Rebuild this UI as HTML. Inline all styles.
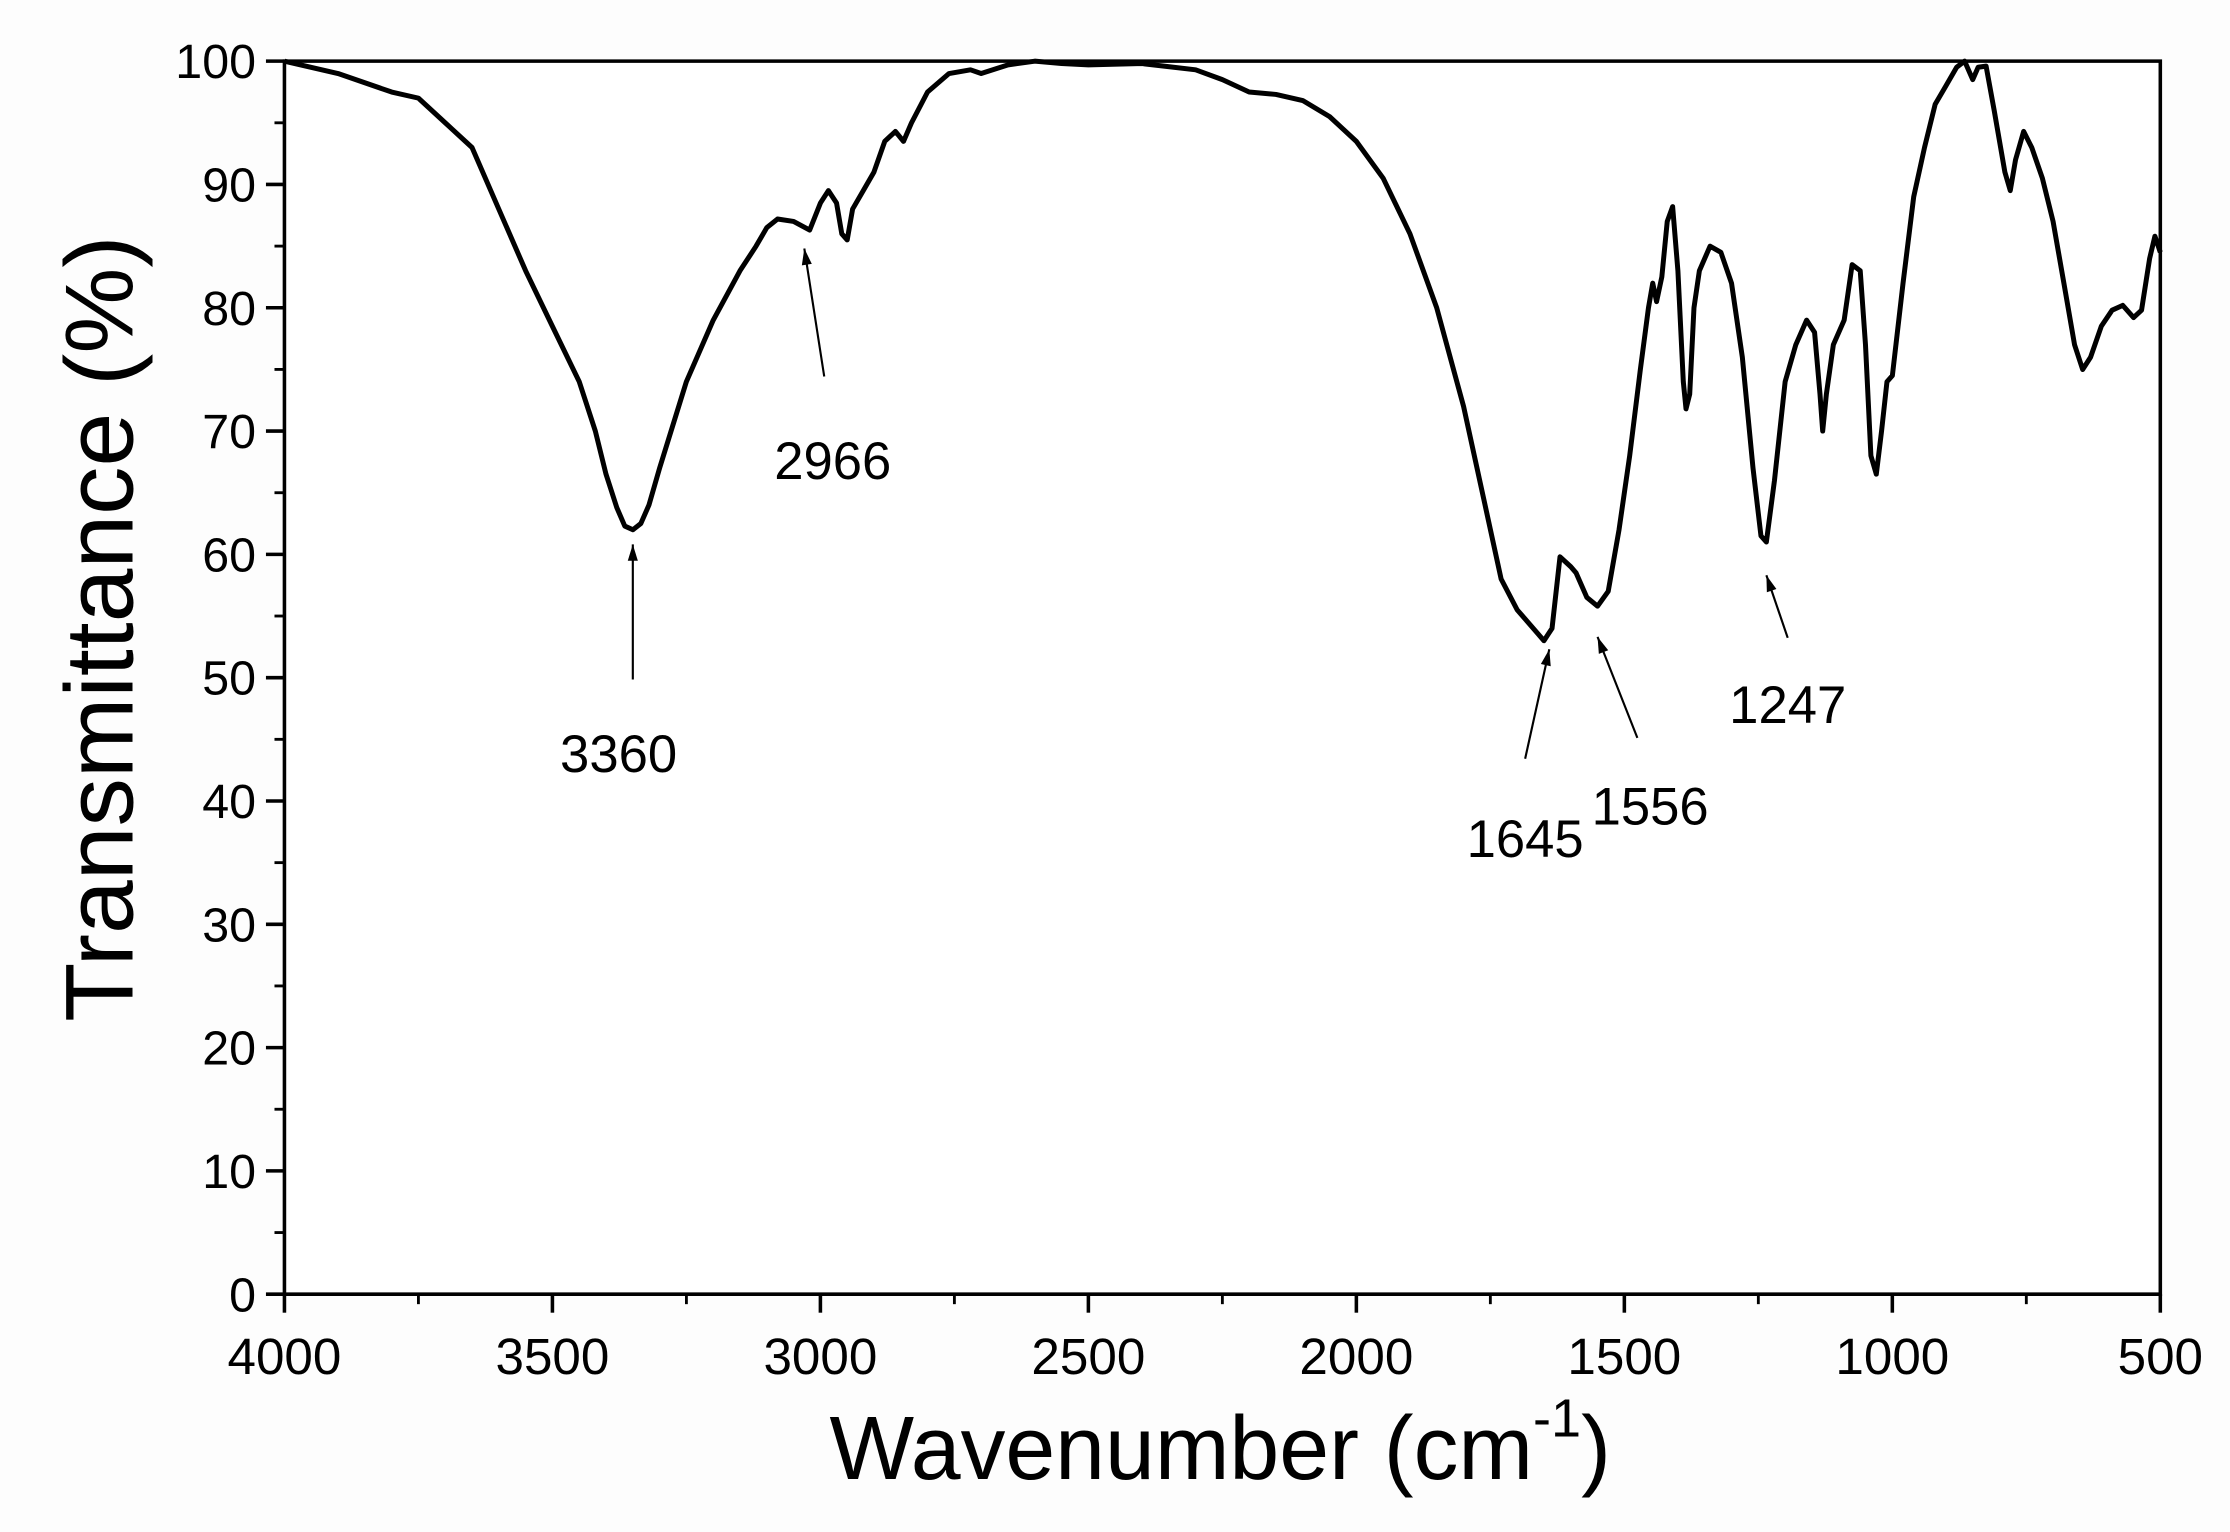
<!DOCTYPE html>
<html><head><meta charset="utf-8"><style>
html,body{margin:0;padding:0;background:#fff}
svg{display:block}
text{font-family:"Liberation Sans",Arial,sans-serif;fill:#000}
</style></head><body>
<svg id="chart" width="2230" height="1532" viewBox="0 0 1568 1077.2" preserveAspectRatio="none" xmlns="http://www.w3.org/2000/svg">
<rect x="0" y="0" width="1568" height="1077.2" fill="#fdfdfd"/>
<g id="axes"></g>
<path id="spectrum" fill="none" stroke="#000" stroke-width="3.5" stroke-linejoin="round"/>
<g id="annots"></g>
<text x="858" y="1040" font-size="63" text-anchor="middle">Wavenumber (cm<tspan dy="-30" font-size="38">-1</tspan><tspan dy="30">)</tspan></text>
<text transform="translate(93,442) rotate(-90)" font-size="68" text-anchor="middle">Transmittance (%)</text>
</svg>
<script>
const wavenumbers=[4000,3900,3800,3750,3700,3650,3600,3550,3500,3450,3420,3400,3380,3365,3350,3335,3320,3300,3250,3200,3150,3120,3100,3080,3050,3020,3000,2985,2970,2960,2950,2940,2920,2900,2880,2860,2845,2830,2800,2760,2720,2700,2650,2600,2550,2500,2400,2300,2250,2200,2150,2100,2050,2000,1950,1900,1850,1800,1760,1730,1700,1670,1650,1635,1620,1600,1590,1570,1550,1530,1510,1490,1470,1455,1447,1440,1430,1420,1410,1400,1390,1385,1378,1370,1360,1340,1320,1300,1280,1260,1245,1235,1220,1200,1180,1160,1145,1135,1130,1123,1110,1090,1075,1060,1050,1040,1030,1020,1010,1000,980,960,940,920,900,880,865,850,840,825,810,790,780,770,755,740,720,700,680,660,645,630,610,590,570,550,535,520,510,500];
const transmittance=[100,99,97.5,97,95,93,88,83,78.5,74,70,66.5,63.8,62.3,62,62.5,64,67,74,79,83,85,86.5,87.2,87,86.3,88.5,89.5,88.5,86,85.5,88,89.5,91,93.5,94.3,93.5,95,97.5,99,99.3,99,99.7,100,99.8,99.7,99.8,99.3,98.5,97.5,97.3,96.8,95.5,93.5,90.5,86,80,72,64,58,55.5,54,53,54,59.8,59,58.5,56.5,55.8,57,62,68,75,80,82,80.5,82.5,87,88.2,83,74,71.8,73,80,83,85,84.5,82,76,67,61.5,61,66,74,77,79,78,73,70,73,77,79,83.5,83,77,68,66.5,70,74,74.5,82,89,93,96.5,98,99.5,100,98.5,99.5,99.6,96,91,89.5,92,94.3,93,90.5,87,82,77,75,76,78.5,79.8,80.2,79.2,79.8,84,85.8,84.5];
const xTicks=[4000,3500,3000,2500,2000,1500,1000,500];
const yTicks=[0,10,20,30,40,50,60,70,80,90,100];
const peakLabels=["3360","2966","1645","1556","1247"];
const peakWn=[3350,3030,1640,1550,1235];
const peakT=[61.5,85.5,53,54,59];

const L=200,R=1519,T=43,B=910;
const X=w=>L+(4000-w)/3500*(R-L);
const Y=t=>B-t/100*(B-T);
const NS="http://www.w3.org/2000/svg";
function mk(tag,attrs,parent){const e=document.createElementNS(NS,tag);for(const k in attrs)e.setAttribute(k,attrs[k]);parent.appendChild(e);return e;}
const ax=document.getElementById('axes');
let fr=mk('path',{d:`M${L},${B}H${R}V${T}H${L}Z`,fill:'#fff',stroke:'#000','stroke-width':2.5},ax);


xTicks.forEach(w=>{
  let t=mk('line',{x1:X(w),x2:X(w),y1:B,y2:B+13,stroke:'#000','stroke-width':2.5},ax);
  
  
  let lb=mk('text',{x:X(w),y:B+56,'font-size':36,'text-anchor':'middle'},ax);lb.textContent=w;
  
  
  if(w>500){let m=mk('line',{x1:X(w-250),x2:X(w-250),y1:B,y2:B+7,stroke:'#000','stroke-width':2},ax);
  
  }
});
yTicks.forEach(v=>{
  let t=mk('line',{x1:L-13,x2:L,y1:Y(v),y2:Y(v),stroke:'#000','stroke-width':2.5},ax);
  
  
  let lb=mk('text',{x:L-20,y:Y(v)+12,'font-size':34,'text-anchor':'end'},ax);lb.textContent=v;
  
  
  if(v<100){let m=mk('line',{x1:L-7,x2:L,y1:Y(v+5),y2:Y(v+5),stroke:'#000','stroke-width':2},ax);
  
  }
});
document.getElementById('spectrum').setAttribute('d',wavenumbers.map((w,i)=>(i?'L':'M')+X(w).toFixed(1)+','+Y(transmittance[i]).toFixed(1)).join(''));
const an=document.getElementById('annots');
const tails=[[0,95],[14,90],[-17,77],[28,71],[15,44]];
const lbls=[[-10,150],[20,152],[-17,136],[37,122],[15,94]];
peakLabels.forEach((s,i)=>{
  const hx=X(peakWn[i]),hy=Y(peakT[i])+6;
  const tx=hx+tails[i][0],ty=hy+tails[i][1];
  let l=mk('line',{x1:tx,y1:ty,x2:hx,y2:hy,stroke:'#000','stroke-width':1.5},an);
  
  
  const a=Math.atan2(hy-ty,hx-tx),s1=12,w1=0.3;
  let h=mk('path',{d:`M${hx},${hy}L${hx-s1*Math.cos(a-w1)},${hy-s1*Math.sin(a-w1)}L${hx-s1*Math.cos(a+w1)},${hy-s1*Math.sin(a+w1)}Z`,fill:'#000'},an);
  
  
  let t=mk('text',{x:hx+lbls[i][0],y:hy+lbls[i][1]+10,'font-size':37,'text-anchor':'middle'},an);t.textContent=s;
  
  
});
</script>
</body></html>
